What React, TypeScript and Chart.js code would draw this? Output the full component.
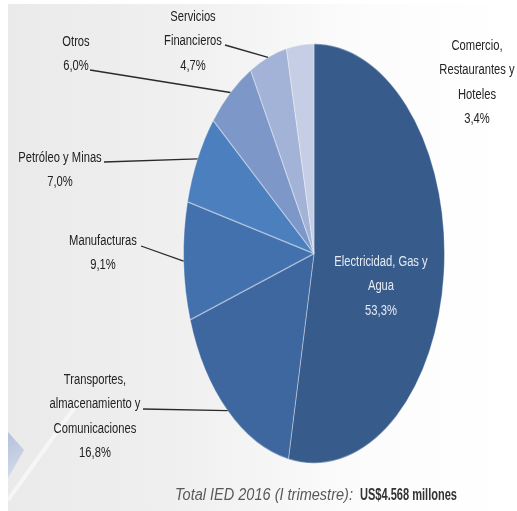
import React, { useEffect, useRef } from "react";
import { Chart, registerables } from "chart.js";

Chart.register(...registerables);

// ---- data ----
const categories = [
  "Electricidad, Gas y Agua",
  "Transportes, almacenamiento y Comunicaciones",
  "Manufacturas",
  "Petróleo y Minas",
  "Otros",
  "Servicios Financieros",
  "Comercio, Restaurantes y Hoteles",
];
const shares = [53.3, 16.8, 9.1, 7.0, 6.0, 4.7, 3.4];
const shareLabels = ["53,3%", "16,8%", "9,1%", "7,0%", "6,0%", "4,7%", "3,4%"];
const labelLines = [
  ["Electricidad, Gas y", "Agua"],
  ["Transportes,", "almacenamiento y", "Comunicaciones"],
  ["Manufacturas"],
  ["Petróleo y Minas"],
  ["Otros"],
  ["Servicios", "Financieros"],
  ["Comercio,", "Restaurantes y", "Hoteles"],
];
const footerItalic = "Total IED 2016 (I trimestre): ";
const footerBold = "US$4.568 millones";

// ---- styles / layout ----
const sliceColors = ["#375C8C", "#3E67A0", "#4371AE", "#4C7FBE", "#7D98C8", "#A2B3D7", "#C5CEE4"];
const SY = 210.5 / 131; // vertical stretch of the pie (ellipse)
const FONT = "'Liberation Sans', Arial, sans-serif";
const NARROW = 0.8; // horizontal condensing of label text
const LINE_H = 24.5;
// label text centers (first line) and optional leader-line start
const labelLayout = [
  { x: 381, y: 262, color: "#E6EBF3", lead: null },
  { x: 95, y: 380, color: "#222222", lead: [143, 409] },
  { x: 103, y: 241, color: "#222222", lead: [141, 246] },
  { x: 60, y: 158, color: "#222222", lead: [104, 162] },
  { x: 76, y: 42, color: "#222222", lead: [90, 70] },
  { x: 193, y: 17, color: "#222222", lead: [225, 45] },
  { x: 477, y: 46, color: "#222222", lead: null },
];

function narrowText(ctx: CanvasRenderingContext2D, t: string, x: number, y: number, sx: number) {
  ctx.save();
  ctx.translate(x, y);
  ctx.scale(sx, 1);
  ctx.fillText(t, 0, 0);
  ctx.restore();
}

const backgroundPlugin = {
  id: "bgDecor",
  beforeDraw(chart: any) {
    const ctx = chart.ctx as CanvasRenderingContext2D;
    const w = chart.width;
    const h = chart.height;
    ctx.save();
    ctx.fillStyle = "#FFFFFF";
    ctx.fillRect(0, 0, w, h);
    const g = ctx.createLinearGradient(8, 0, w, 0);
    g.addColorStop(0, "#EAEAEA");
    g.addColorStop(0.35, "#F0F0F0");
    g.addColorStop(0.7, "#FCFCFC");
    g.addColorStop(1, "#FFFFFF");
    ctx.fillStyle = g;
    ctx.fillRect(8, 4, w - 8, h - 4);
    // decorative shapes bottom-left
    const bg = ctx.createLinearGradient(8, 430, 26, 470);
    bg.addColorStop(0, "#B3C0DA");
    bg.addColorStop(1, "#D2D9E8");
    ctx.fillStyle = bg;
    ctx.beginPath();
    ctx.moveTo(8, 432);
    ctx.lineTo(24, 450);
    ctx.lineTo(8, 478);
    ctx.closePath();
    ctx.fill();
    ctx.strokeStyle = "rgba(255,255,255,0.55)";
    ctx.lineWidth = 4;
    ctx.beginPath();
    ctx.moveTo(8, 500);
    ctx.lineTo(80, 400);
    ctx.stroke();
    ctx.restore();
  },
};

const ellipsePlugin = {
  id: "ellipse",
  beforeDatasetsDraw(chart: any) {
    const arc = chart.getDatasetMeta(0).data[0] as any;
    const ctx = chart.ctx as CanvasRenderingContext2D;
    ctx.save();
    ctx.translate(arc.x, arc.y);
    ctx.scale(1, SY);
    ctx.translate(-arc.x, -arc.y);
  },
  afterDatasetsDraw(chart: any) {
    chart.ctx.restore();
  },
};

const labelPlugin = {
  id: "sliceLabels",
  afterDraw(chart: any) {
    const ctx = chart.ctx as CanvasRenderingContext2D;
    const arcs = chart.getDatasetMeta(0).data as any[];
    ctx.save();
    arcs.forEach((arc, i) => {
      const lay = labelLayout[i];
      const mid = (arc.startAngle + arc.endAngle) / 2;
      const px = arc.x + Math.cos(mid) * arc.outerRadius;
      const py = arc.y + Math.sin(mid) * arc.outerRadius * SY;
      if (lay.lead) {
        ctx.strokeStyle = "#2A2A2A";
        ctx.lineWidth = 1.3;
        ctx.beginPath();
        ctx.moveTo(lay.lead[0], lay.lead[1]);
        ctx.lineTo(px, py);
        ctx.stroke();
      }
      const lines = [...labelLines[i], shareLabels[i]];
      ctx.fillStyle = lay.color;
      ctx.font = `14px ${FONT}`;
      ctx.textAlign = "center";
      ctx.textBaseline = "middle";
      lines.forEach((t, k) => narrowText(ctx, t, lay.x, lay.y + k * LINE_H, NARROW));
    });
    // footer
    ctx.textBaseline = "middle";
    ctx.textAlign = "left";
    ctx.font = `italic 16px 'Liberation Sans', 'DejaVu Sans', sans-serif`;
    ctx.fillStyle = "#595959";
    const x0 = 175;
    const yF = 496;
    const wI = Math.min(ctx.measureText(footerItalic).width, 182);
    ctx.fillText(footerItalic, x0, yF, 182);
    ctx.font = `bold 16px ${FONT}`;
    ctx.fillStyle = "#333333";
    ctx.fillText(footerBold, x0 + wI + 3, yF, 97);
    ctx.restore();
  },
};

export default function App() {
  const ref = useRef<HTMLCanvasElement | null>(null);
  useEffect(() => {
    if (!ref.current) return;
    const chart = new Chart(ref.current, {
      type: "pie",
      data: {
        labels: categories,
        datasets: [
          {
            data: shares,
            backgroundColor: sliceColors,
            borderColor: "rgba(255,255,255,0.35)",
            borderWidth: 1,
            clip: false as any,
          },
        ],
      },
      options: {
        responsive: false,
        animation: false,
        events: [],
        layout: { padding: { left: 183, right: 72, top: 122.5, bottom: 126.5 } },
        plugins: {
          legend: { display: false },
          tooltip: { enabled: false },
          title: { display: false },
        },
      },
      plugins: [backgroundPlugin, ellipsePlugin, labelPlugin],
    });
    return () => chart.destroy();
  }, []);
  return (
    <div style={{ position: "fixed", left: 0, top: 0, width: 517, height: 511 }}>
      <canvas ref={ref} width={517} height={511} style={{ display: "block" }} />
    </div>
  );
}
